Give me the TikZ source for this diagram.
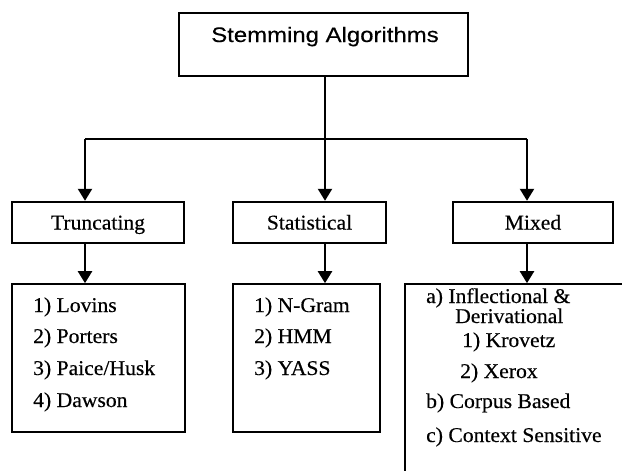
\documentclass[tikz,border=0pt]{standalone}
\usepackage{fontspec}
\setmainfont[FakeStretch=1.03,FakeBold=0.4]{Liberation Serif}
\newfontfamily\headfont[FakeStretch=1.14,FakeBold=0.3]{Liberation Sans}
\usetikzlibrary{arrows.meta}

\begin{document}
\begin{tikzpicture}[x=1pt,y=-1pt,
  box/.style={draw, line width=2.4pt, rectangle, inner sep=0pt,
    text height=14pt, text depth=0pt, font=\fontsize{21}{25}\selectfont},
  listbox/.style={draw, line width=1.6pt, rectangle, inner sep=0pt},
  item/.style={anchor=base west, inner sep=0pt, font=\fontsize{21}{25}\selectfont},
  link/.style={line width=2.2pt},
  arr/.style={link, -{Triangle[width=14pt,length=12pt]}}]

\useasboundingbox (0,0) rectangle (622,471);
\clip (0,0) rectangle (622,471);

% root
\node[box, line width=2.6pt, minimum width=289pt, minimum height=63pt] (title) at (323.5,44.5) {};
\node[anchor=base, inner sep=0pt, font=\headfont\fontsize{21}{25}\selectfont] (titletext) at (325,42) {Stemming Algorithms};

% categories
\node[box, minimum width=172pt, minimum height=41pt] (trunc) at (98,222.5) {Truncating};
\node[box, minimum width=153pt, minimum height=41pt] (stat) at (309.5,222.5) {Statistical};
\node[box, minimum width=160pt, minimum height=41pt] (mixed) at (533,222.5) {Mixed};

% bus from the root to the categories
\coordinate (jL) at (85,139);
\coordinate (jC) at (325,139);
\coordinate (jR) at (527,139);
\draw[link] (title.south -| jC) -- (jC);
\draw[link] (jL) -- (jR);
\draw[arr] (jL) -- (jL |- trunc.north);
\draw[arr] (jC) -- (jC |- stat.north);
\draw[arr] (jR) -- (jR |- mixed.north);

% algorithm lists
\node[listbox, minimum width=173pt, minimum height=148pt] (trlist) at (98.5,358) {};
\node[listbox, minimum width=147pt, minimum height=148pt] (stlist) at (306.5,358) {};
\node[listbox, minimum width=255pt, minimum height=236pt] (mxlist) at (532.5,402) {};

\draw[arr] (trunc.south -| jL) -- (trlist.north -| jL);
\draw[arr] (stat.south -| jC) -- (stlist.north -| jC);
\draw[arr] (mixed.south -| jR) -- (mxlist.north -| jR);

\node[item] (t1) at (33,312) {1) Lovins};
\node[item] (t2) at (33,343) {2) Porters};
\node[item] (t3) at (33,375) {3) Paice/Husk};
\node[item] (t4) at (33,407) {4) Dawson};

\node[item] (s1) at (254,312) {1) N-Gram};
\node[item] (s2) at (254,343) {2) HMM};
\node[item] (s3) at (254,375) {3) YASS};

\node[item] (m1) at (426,303) {a) Inflectional \&};
\node[item] (m2) at (455,323) {Derivational};
\node[item] (m3) at (462,347) {1) Krovetz};
\node[item] (m4) at (460,378) {2) Xerox};
\node[item] (m5) at (426,408) {b) Corpus Based};
\node[item] (m6) at (426,442) {c) Context Sensitive};
\end{tikzpicture}
\end{document}
